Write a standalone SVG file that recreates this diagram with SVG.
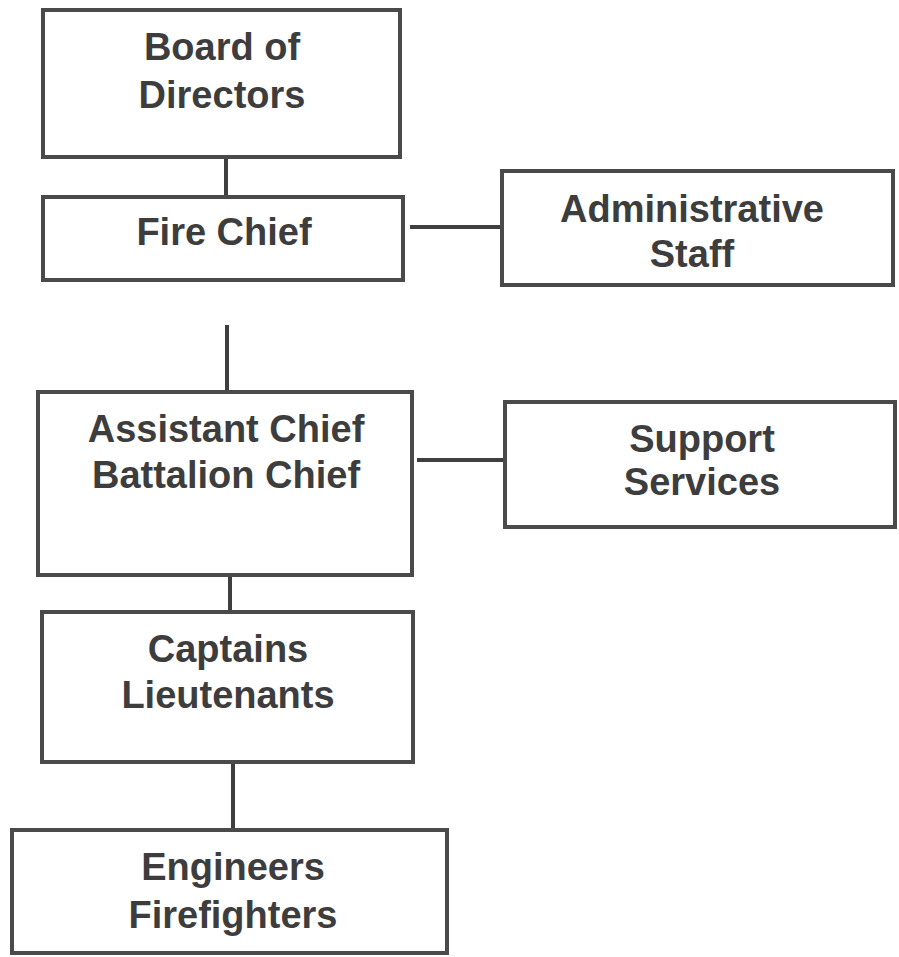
<svg xmlns="http://www.w3.org/2000/svg" width="899" height="957" viewBox="0 0 899 957">
<style>
.box{fill:#ffffff;stroke:#4a4a4a;stroke-width:4}
.ln{stroke:#3f3f3f;stroke-width:4;fill:none}
.t{font-family:"Liberation Sans",Arial,sans-serif;font-weight:bold;font-size:38px;fill:#3d3d3d;text-anchor:middle}
</style>
<rect width="899" height="957" fill="#ffffff"/>
<g id="connectors">
<line class="ln" x1="226" y1="157" x2="226" y2="197"/>
<line class="ln" x1="410" y1="227" x2="502" y2="227"/>
<line class="ln" x1="227" y1="325" x2="227" y2="392"/>
<line class="ln" x1="417" y1="460" x2="505" y2="460"/>
<line class="ln" x1="230" y1="575" x2="230" y2="612"/>
<line class="ln" x1="233" y1="762" x2="233" y2="830"/>
</g>
<g id="board">
<rect class="box" x="43" y="10" width="357" height="147"/>
<text class="t" x="222" y="60">Board of</text>
<text class="t" x="222" y="108">Directors</text>
</g>
<g id="firechief">
<rect class="box" x="43" y="197" width="360" height="83"/>
<text class="t" x="224" y="245">Fire Chief</text>
</g>
<g id="admin">
<rect class="box" x="502" y="171" width="391" height="114"/>
<text class="t" x="692" y="222">Administrative</text>
<text class="t" x="692" y="267">Staff</text>
</g>
<g id="assistant">
<rect class="box" x="38" y="392" width="374" height="183"/>
<text class="t" x="226" y="442">Assistant Chief</text>
<text class="t" x="226" y="488">Battalion Chief</text>
</g>
<g id="support">
<rect class="box" x="505" y="402" width="390" height="125"/>
<text class="t" x="702" y="452">Support</text>
<text class="t" x="702" y="495">Services</text>
</g>
<g id="captains">
<rect class="box" x="42" y="612" width="371" height="150"/>
<text class="t" x="228" y="662">Captains</text>
<text class="t" x="228" y="708">Lieutenants</text>
</g>
<g id="engineers">
<rect class="box" x="12" y="830" width="435" height="123"/>
<text class="t" x="233" y="880">Engineers</text>
<text class="t" x="233" y="928">Firefighters</text>
</g>
</svg>
